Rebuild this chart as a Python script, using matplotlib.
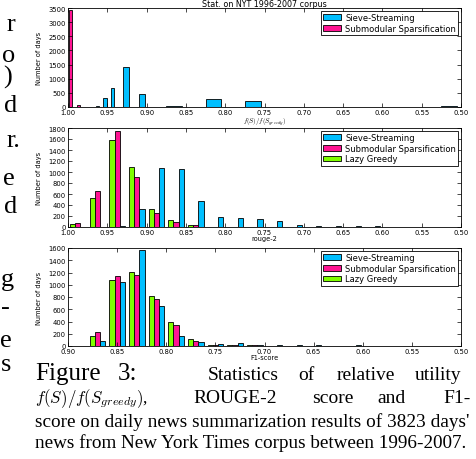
import numpy as np
import matplotlib
matplotlib.use('Agg')
import matplotlib.pyplot as plt
from matplotlib.ticker import MultipleLocator, FormatStrFormatter

plt.rcParams['mathtext.fontset'] = 'cm'

W, H = 476, 460

labels = ['Sieve-Streaming', 'Submodular Sparsification', 'Lazy Greedy']
colors = ['#00BFFF', '#FF1493', '#7FFF00']

# relative utility f(S)/f(S_greedy), counts per bin (low -> high)
util_edges = [0.50, 0.55, 0.60, 0.65, 0.70, 0.75, 0.80, 0.85, 0.90,
              0.92, 0.94, 0.95, 0.96, 0.97, 0.98, 0.99, 1.00]
util_sieve = [20, 15, 8, 10, 10, 215, 290, 50, 465, 1430, 670, 330, 30, 0, 0, 0]
util_sparse = [0, 0, 0, 0, 0, 0, 0, 0, 0, 0, 0, 0, 0, 0, 70, 3425]

# rouge-2, bins of 0.025 from 0.5 to 1.0
rouge_edges = np.linspace(0.5, 1.0, 21)
rouge_sieve = [8, 5, 5, 5, 10, 15, 15, 15, 30, 110, 145, 170, 180, 470, 1050, 1070, 330, 10, 0, 0]
rouge_sparse = [0, 0, 0, 0, 0, 0, 0, 0, 0, 0, 0, 0, 5, 40, 100, 255, 905, 1750, 650, 70]
rouge_lazy = [0, 0, 0, 0, 0, 0, 0, 0, 0, 0, 0, 0, 5, 45, 130, 325, 1100, 1590, 530, 60]

# F1-score, bins of 0.02 from 0.5 to 0.9
f1_edges = np.linspace(0.5, 0.9, 21)
f1_sieve = [3, 3, 4, 4, 6, 10, 8, 10, 12, 12, 15, 43, 33, 65, 163, 656, 1567, 1041, 81, 0]
f1_sparse = [1, 1, 1, 2, 2, 2, 3, 4, 6, 8, 10, 22, 22, 87, 342, 770, 1160, 1139, 228, 5]
f1_lazy = [1, 1, 1, 2, 2, 3, 3, 4, 8, 8, 10, 16, 22, 108, 390, 814, 1204, 1079, 157, 3]


def centers(edges):
    e = np.asarray(edges)
    return (e[:-1] + e[1:]) / 2


def box(l, t, r, b):
    return [l / W, 1 - b / H, (r - l) / W, (b - t) / H]


fig = plt.figure(figsize=(W / 100, H / 100), dpi=100)
ax1 = fig.add_axes(box(68, 9, 461, 108))
ax2 = fig.add_axes(box(68, 129, 461, 228))
ax3 = fig.add_axes(box(68, 249, 461, 347))

ax1.hist([centers(util_edges)] * 2, bins=util_edges,
         weights=[util_sieve, util_sparse], color=colors[:2],
         label=labels[:2], edgecolor='k', linewidth=0.6)
ax2.hist([centers(rouge_edges)] * 3, bins=rouge_edges,
         weights=[rouge_sieve, rouge_sparse, rouge_lazy], color=colors,
         label=labels, edgecolor='k', linewidth=0.6)
ax3.hist([centers(f1_edges)] * 3, bins=f1_edges,
         weights=[f1_sieve, f1_sparse, f1_lazy], color=colors,
         label=labels, edgecolor='k', linewidth=0.6)

setup = [(ax1, (1.0, 0.5), 3500, 500, r'$f(S)/f(S_{greedy})$', -0.085),
         (ax2, (1.0, 0.5), 1800, 200, 'rouge-2', -0.085),
         (ax3, (0.9, 0.5), 1600, 200, 'F1-score', -0.085)]
for ax, xl, ytop, ystep, xlab, ly in setup:
    ax.set_xlim(*xl)
    ax.set_ylim(0, ytop)
    ax.xaxis.set_major_locator(MultipleLocator(0.05))
    ax.xaxis.set_major_formatter(FormatStrFormatter('%.2f'))
    ax.yaxis.set_major_locator(MultipleLocator(ystep))
    ax.tick_params(direction='in', top=True, right=True, length=3, width=0.5,
                   labelsize=4.9, pad=1.5)
    for s in ax.spines.values():
        s.set_linewidth(0.6)
    ax.set_ylabel('Number of days', fontsize=4.8)
    ax.yaxis.set_label_coords(-0.066, 0.5)
    ax.set_xlabel(xlab, fontsize=4.8)
    ax.xaxis.set_label_coords(0.5, ly)
    ax.legend(loc='upper right', fontsize=6, fancybox=False, edgecolor='k',
              framealpha=1, borderaxespad=0.3, borderpad=0.3, labelspacing=0.2,
              handlelength=2.1, handletextpad=0.5)
    ax.get_legend().get_frame().set_linewidth(0.6)

ax1.set_title('Stat. on NYT 1996-2007 corpus', fontsize=5.8, pad=1.5)

# caption and cut-off text of the neighbouring column
serif = 'Liberation Serif'


def txt(x, y, s, size, ha='left'):
    return fig.text(x / W, 1 - y / H, s, ha=ha, va='baseline',
                    fontsize=size, family=serif)


def fit(t, width):
    r = fig.canvas.get_renderer()
    w = t.get_window_extent(r).width
    t.set_fontsize(t.get_fontsize() * width / w)


side = [(15, 31, 'r'), (15, 62, 'o'), (12, 84, ')'), (17, 112, 'd'),
        (20, 147, 'r.'), (15, 185, 'e'), (17, 213, 'd'), (14, 286, 'g'),
        (10, 314, '-'), (12, 347, 'e'), (11, 371, 's')]
for x, y, s in side:
    txt(x, y, s, 19, ha='right')

txt(35, 380, 'Figure', 18)
txt(118, 380, '3:', 18)
for x, s in [(208, 'Statistics'), (298, 'of'), (337, 'relative'), (415, 'utility')]:
    txt(x, 380, s, 14)
m = txt(35, 403, r'$f(S)/f(S_{greedy})$,', 14)
fit(m, 113)
for x, s in [(193, 'ROUGE-2'), (312, 'score'), (377, 'and'), (443, 'F1-')]:
    txt(x, 403, s, 14)
l3 = txt(35, 427, "score on daily news summarization results of 3823 days'", 14)
fit(l3, 438)
l4 = txt(35, 448, 'news from New York Times corpus between 1996-2007.', 14)
fit(l4, 435)

fig.savefig('out.png', dpi=100)
